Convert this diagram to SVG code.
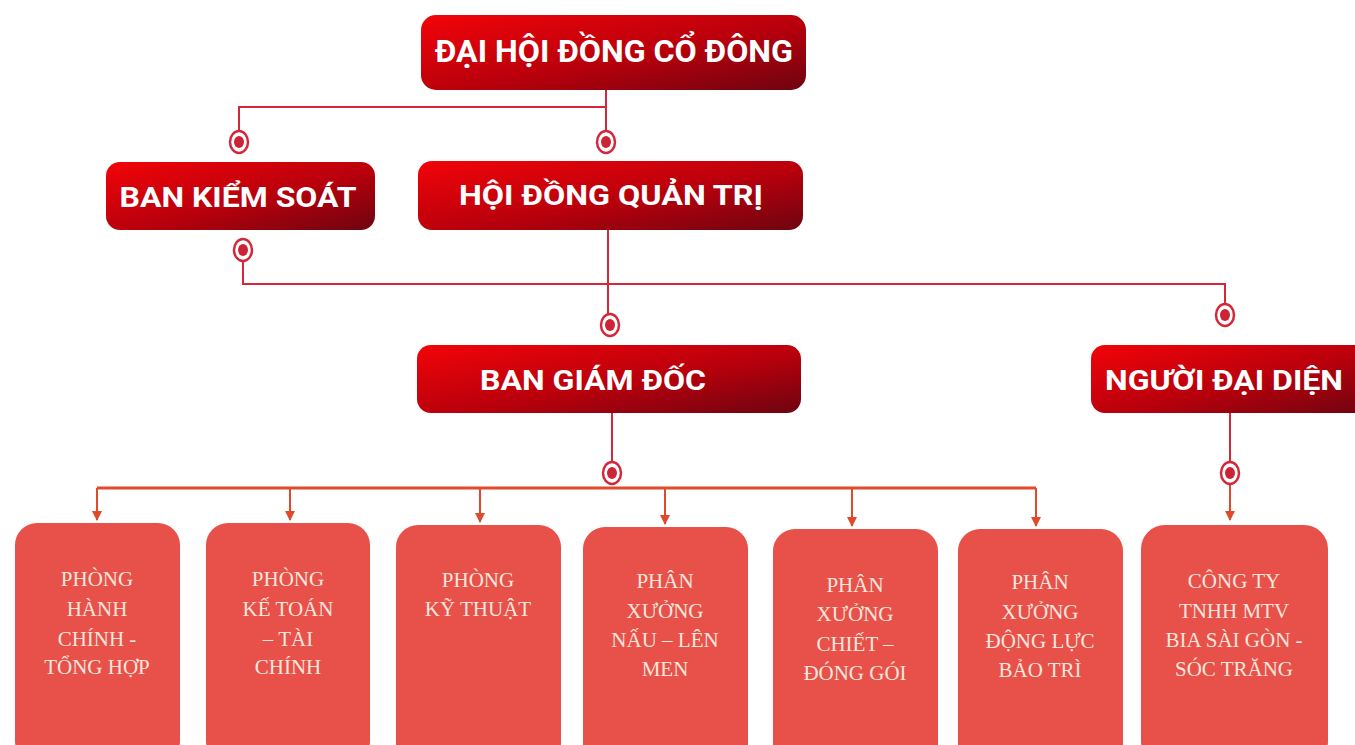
<svg xmlns="http://www.w3.org/2000/svg" width="1355" height="745" viewBox="0 0 1355 745">
<defs>
<linearGradient id="g" x1="0" y1="0" x2="1" y2="1">
<stop offset="0" stop-color="#f20408"/>
<stop offset="0.55" stop-color="#b8000c"/>
<stop offset="1" stop-color="#6e0410"/>
</linearGradient>
<marker id="ah" viewBox="0 0 10 10" refX="9" refY="5" markerWidth="5" markerHeight="5" orient="auto" markerUnits="strokeWidth">
<path d="M0,0 L10,5 L0,10 z" fill="#e04a2a"/>
</marker>
<g id="dot">
<ellipse cx="0" cy="0" rx="9" ry="11" fill="#fff" stroke="#d4283a" stroke-width="2.5"/>
<ellipse cx="0" cy="0" rx="5" ry="6" fill="#cc2436"/>
</g>
</defs>
<style>
.top{fill:url(#g)}
.tt{font-family:Roboto,"Liberation Sans",sans-serif;font-weight:bold;fill:#fff;text-anchor:middle}
.bx{fill:#e8504a}
.bt{font-family:"Liberation Serif","DejaVu Serif",serif;font-size:21px;fill:#fbe6dc;text-anchor:middle}
.ln{fill:none;stroke:#d4283a;stroke-width:2}
.bar{fill:none;stroke:#e04a2a;stroke-width:3}
.ar{fill:none;stroke:#e04a2a;stroke-width:2;marker-end:url(#ah)}
</style>
<rect width="1355" height="745" fill="#fff"/>
<g id="connectors">
<path class="ln" d="M606,90 V107 H239 V131"/>
<path class="ln" d="M606,107 V131"/>
<path class="ln" d="M243,261 V284 H1225 V304"/>
<path class="ln" d="M608,230 V314" stroke-width="2.5"/>
<path class="ln" d="M612,413 V462"/>
<path class="ln" d="M1230,413 V462"/>
<path class="bar" d="M97,488 H1036"/>
<path class="ar" d="M97,488 V520"/>
<path class="ar" d="M290,488 V520"/>
<path class="ar" d="M480,488 V522"/>
<path class="ar" d="M665,488 V524"/>
<path class="ar" d="M852,488 V526"/>
<path class="ar" d="M1036,488 V526"/>
<path class="ar" d="M1230,484 V520"/>
<use href="#dot" x="239" y="142"/>
<use href="#dot" x="606" y="142"/>
<use href="#dot" x="243" y="250"/>
<use href="#dot" x="610" y="325"/>
<use href="#dot" x="1225" y="315"/>
<use href="#dot" x="612" y="473"/>
<use href="#dot" x="1230" y="473"/>
</g>
<g id="n-dhdcd">
<rect class="top" x="421" y="15" width="385" height="75" rx="15"/>
<text class="tt" x="614" y="62" font-size="32" textLength="358" lengthAdjust="spacingAndGlyphs">ĐẠI HỘI ĐỒNG CỔ ĐÔNG</text>
</g>
<g id="n-bks">
<rect class="top" x="106" y="162" width="269" height="68" rx="14"/>
<text class="tt" x="238" y="207" font-size="28" textLength="237" lengthAdjust="spacingAndGlyphs">BAN KIỂM SOÁT</text>
</g>
<g id="n-hdqt">
<rect class="top" x="418" y="161" width="385" height="69" rx="14"/>
<text class="tt" x="611" y="205" font-size="28" textLength="304" lengthAdjust="spacingAndGlyphs">HỘI ĐỒNG QUẢN TRỊ</text>
</g>
<g id="n-bgd">
<rect class="top" x="417" y="345" width="384" height="68" rx="14"/>
<text class="tt" x="593" y="390" font-size="28" textLength="226" lengthAdjust="spacingAndGlyphs">BAN GIÁM ĐỐC</text>
</g>
<g id="n-ndd">
<rect class="top" x="1091" y="345" width="280" height="68" rx="14"/>
<text class="tt" x="1224" y="390" font-size="28" textLength="238" lengthAdjust="spacingAndGlyphs">NGƯỜI ĐẠI DIỆN</text>
</g>
<g id="n-hcth">
<rect class="bx" x="15" y="523" width="165" height="240" rx="22"/>
<text class="bt" x="97"><tspan x="97" y="586">PHÒNG</tspan><tspan x="97" y="616">HÀNH</tspan><tspan x="97" y="646">CHÍNH -</tspan><tspan x="97" y="674">TỔNG HỢP</tspan></text>
</g>
<g id="n-ketoan">
<rect class="bx" x="206" y="523" width="164" height="240" rx="22"/>
<text class="bt" x="288"><tspan x="288" y="586">PHÒNG</tspan><tspan x="288" y="616">KẾ TOÁN</tspan><tspan x="288" y="646">– TÀI</tspan><tspan x="288" y="674">CHÍNH</tspan></text>
</g>
<g id="n-kythuat">
<rect class="bx" x="396" y="525" width="165" height="240" rx="22"/>
<text class="bt" x="478"><tspan x="478" y="587">PHÒNG</tspan><tspan x="478" y="616">KỸ THUẬT</tspan></text>
</g>
<g id="n-nau">
<rect class="bx" x="583" y="527" width="165" height="240" rx="22"/>
<text class="bt" x="665"><tspan x="665" y="588">PHÂN</tspan><tspan x="665" y="618">XƯỞNG</tspan><tspan x="665" y="647">NẤU – LÊN</tspan><tspan x="665" y="676">MEN</tspan></text>
</g>
<g id="n-chiet">
<rect class="bx" x="773" y="529" width="165" height="240" rx="22"/>
<text class="bt" x="855"><tspan x="855" y="592">PHÂN</tspan><tspan x="855" y="621">XƯỞNG</tspan><tspan x="855" y="651">CHIẾT –</tspan><tspan x="855" y="680">ĐÓNG GÓI</tspan></text>
</g>
<g id="n-dongluc">
<rect class="bx" x="958" y="529" width="165" height="240" rx="22"/>
<text class="bt" x="1040"><tspan x="1040" y="589">PHÂN</tspan><tspan x="1040" y="619">XƯỞNG</tspan><tspan x="1040" y="648">ĐỘNG LỰC</tspan><tspan x="1040" y="677">BẢO TRÌ</tspan></text>
</g>
<g id="n-congty">
<rect class="bx" x="1141" y="525" width="187" height="240" rx="24"/>
<text class="bt" x="1234"><tspan x="1234" y="588">CÔNG TY</tspan><tspan x="1234" y="618">TNHH MTV</tspan><tspan x="1234" y="647">BIA SÀI GÒN -</tspan><tspan x="1234" y="676">SÓC TRĂNG</tspan></text>
</g>
</svg>
